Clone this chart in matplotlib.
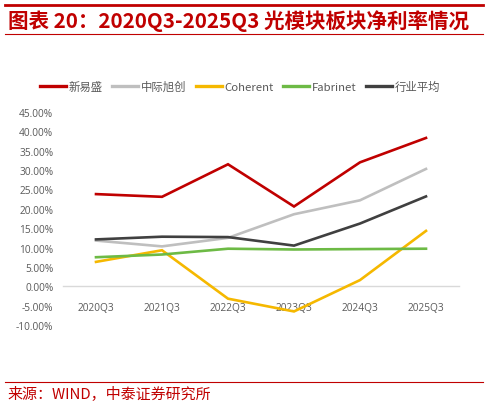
import matplotlib
matplotlib.use("Agg")
import matplotlib.pyplot as plt
from matplotlib.lines import Line2D
from matplotlib.ticker import FuncFormatter, MultipleLocator

plt.rcParams['font.family'] = ['Noto Sans CJK SC', 'DejaVu Sans']

quarters = ["2020Q3", "2021Q3", "2022Q3", "2023Q3", "2024Q3", "2025Q3"]
xinyisheng = [23.8, 23.1, 31.5, 20.6, 32.0, 38.3]
zhongji = [11.8, 10.3, 12.5, 18.6, 22.2, 30.3]
coherent = [6.3, 9.3, -3.2, -6.5, 1.6, 14.3]
fabrinet = [7.5, 8.2, 9.7, 9.5, 9.6, 9.7]
industry_avg = [12.1, 12.8, 12.7, 10.5, 16.2, 23.2]

series_names = ["新易盛", "中际旭创", "Coherent", "Fabrinet", "行业平均"]
series_values = [xinyisheng, zhongji, coherent, fabrinet, industry_avg]
colors = ["#C00000", "#BFBFBF", "#F5B800", "#6DBA45", "#404040"]

title = "图表 20：2020Q3-2025Q3 光模块板块净利率情况"
source = "来源：WIND，中泰证券研究所"

fig = plt.figure(figsize=(4.88, 4.06), dpi=100)
ax = fig.add_axes([63/488, 1-326/406, (459-63)/488, (326-113)/406])

x = list(range(len(quarters)))
for name, vals, c in zip(series_names, series_values, colors):
    ax.plot(x, vals, color=c, lw=1.9, solid_joinstyle='miter', label=name, zorder=3)

ax.set_xlim(-0.5, len(quarters) - 0.5)
ax.set_ylim(-10, 45)
ax.yaxis.set_major_locator(MultipleLocator(5))
ax.yaxis.set_major_formatter(FuncFormatter(lambda v, p: f"{v:.2f}%"))
for s in ["top", "right", "left"]:
    ax.spines[s].set_visible(False)
ax.spines["bottom"].set_position(("data", 0))
ax.spines["bottom"].set_color("#D9D9D9")
ax.spines["bottom"].set_linewidth(1.0)
ax.spines["bottom"].set_zorder(1)
ax.set_xticks(x)
ax.set_xticklabels(quarters)
ax.tick_params(axis="both", length=0, labelsize=7.3, labelcolor="#595959")
ax.tick_params(axis="x", pad=11)
ax.tick_params(axis="y", pad=7)
for lab in ax.get_yticklabels():
    lab.set_family(["Open Sans", "DejaVu Sans"])
for lab in ax.get_xticklabels():
    lab.set_family(["Open Sans", "DejaVu Sans"])

handles = [Line2D([0], [0], color=c, lw=2.4) for c in colors]
leg = fig.legend(handles, series_names, loc="center", bbox_to_anchor=(240/488, 1-87/406),
                 ncol=5, frameon=False, fontsize=8.2, handlelength=2.3, handletextpad=0.2,
                 columnspacing=0.85)
for t in leg.get_texts():
    t.set_color("#595959")

red = "#C00000"
fig.add_artist(Line2D([5/488, 483/488], [1-6/406, 1-6/406], color=red, lw=2.0))
fig.add_artist(Line2D([5/488, 483/488], [1-35/406, 1-35/406], color=red, lw=0.8))
fig.add_artist(Line2D([5/488, 483/488], [1-383/406, 1-383/406], color=red, lw=0.8))
fig.text(8/488, 1-21/406, title, color=red, fontsize=14.8, fontweight="bold",
         va="center", ha="left")
fig.text(7/488, 1-394/406, source, color=red, fontsize=10.8, va="center", ha="left")

fig.savefig("out.png", dpi=100)
